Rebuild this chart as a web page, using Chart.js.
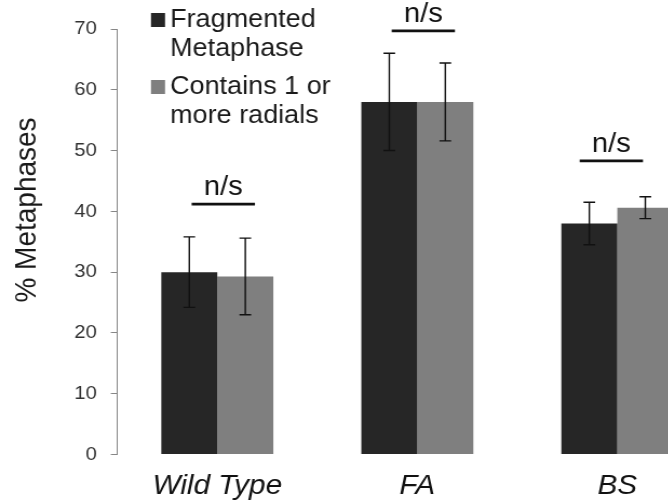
<!DOCTYPE html>
<html>
<head>
<meta charset="utf-8">
<script src="https://cdn.jsdelivr.net/npm/chart.js@4/dist/chart.umd.min.js"></script>
<style>
  html, body { margin: 0; padding: 0; background: #fff; overflow: hidden; }
  #wrap { width: 668px; height: 504px; overflow: hidden; position: relative; }
  /* the figure is drawn slightly narrow and widened, like the exported slide */
  canvas#metaphases { position: absolute; left: 0; top: 0; transform: scaleX(1.08); transform-origin: 0 0; }
</style>
</head>
<body>
<div id="wrap"><canvas id="metaphases" width="670" height="504"></canvas></div>
<script>
const categories = ["Wild Type", "FA", "BS"];
const seriesNames = ["Fragmented Metaphase", "Contains 1 or more radials"];
const fragmented = [30.0, 58.0, 38.0];
const fragmentedErr = [5.8, 8.0, 3.5];
const radials = [29.3, 58.0, 40.6];
const radialsErr = [6.3, 6.4, 1.8];
const yTicks = [0, 10, 20, 30, 40, 50, 60, 70];
const nsLabels = ["n/s", "n/s", "n/s"];
const nsLevels = [41.2, 69.7, 48.3];
const yTitle = "% Metaphases";

const FONT = "'Liberation Sans', Arial, sans-serif";
const DARK = "#262626";
const GREY = "#7f7f7f";
const AXIS = "#868686";

// error whiskers on each bar
const errorBars = {
  id: "errorBars",
  afterDatasetsDraw(chart) {
    const { ctx, scales: { y } } = chart;
    ctx.save();
    ctx.strokeStyle = "#111";
    ctx.lineWidth = 1.4;
    chart.data.datasets.forEach((ds, i) => {
      chart.getDatasetMeta(i).data.forEach((bar, j) => {
        const v = ds.data[j], e = ds.errors[j];
        const top = y.getPixelForValue(v + e);
        const bot = y.getPixelForValue(v - e);
        ctx.beginPath();
        ctx.moveTo(bar.x, top); ctx.lineTo(bar.x, bot);
        ctx.moveTo(bar.x - 5.4, top); ctx.lineTo(bar.x + 5.4, top);
        ctx.moveTo(bar.x - 5.4, bot); ctx.lineTo(bar.x + 5.4, bot);
        ctx.stroke();
      });
    });
    ctx.restore();
  },
};

// "n/s" bars over each group
const nsMarks = {
  id: "nsMarks",
  afterDatasetsDraw(chart, args, opts) {
    const { ctx, scales: { x, y } } = chart;
    ctx.save();
    ctx.strokeStyle = "#111";
    ctx.fillStyle = "#111";
    ctx.lineWidth = 2.8;
    ctx.font = `27px ${FONT}`;
    ctx.textAlign = "center";
    ctx.textBaseline = "alphabetic";
    categories.forEach((c, j) => {
      const cx = x.getPixelForValue(j + opts.shift[j]);
      const ly = y.getPixelForValue(nsLevels[j]);
      ctx.beginPath();
      ctx.moveTo(cx - 29.3, ly);
      ctx.lineTo(cx + 29.3, ly);
      ctx.stroke();
      ctx.fillText(nsLabels[j], cx, ly - 9.3);
    });
    ctx.restore();
  },
};

// legend with wrapped names, plus the rotated y title
const sideText = {
  id: "sideText",
  afterDraw(chart) {
    const { ctx } = chart;
    ctx.save();
    ctx.font = `25px ${FONT}`;
    ctx.textBaseline = "alphabetic";
    const tops = [13, 80];
    chart.data.datasets.forEach((ds, i) => {
      const words = ds.label.split(" ");
      const lines = [];
      let line = "";
      words.forEach(w => {
        const t = line ? line + " " + w : w;
        if (line && ctx.measureText(t).width > 165) { lines.push(line); line = w; }
        else line = t;
      });
      lines.push(line);
      ctx.fillStyle = ds.backgroundColor;
      ctx.fillRect(139.8, tops[i], 13, 14);
      ctx.fillStyle = "#1a1a1a";
      lines.forEach((l, k) => ctx.fillText(l, 157.5, tops[i] + 13.9 + k * 29.3));
    });

    ctx.font = `28px ${FONT}`;
    ctx.textAlign = "center";
    ctx.textBaseline = "middle";
    ctx.translate(25, 210);
    ctx.rotate(-Math.PI / 2);
    ctx.fillText(yTitle, 0, 0);
    ctx.restore();
  },
};

new Chart(document.getElementById("metaphases"), {
  type: "bar",
  data: {
    labels: categories,
    datasets: [
      { label: seriesNames[0], data: fragmented, errors: fragmentedErr, backgroundColor: DARK },
      { label: seriesNames[1], data: radials, errors: radialsErr, backgroundColor: GREY },
    ],
  },
  options: {
    responsive: false,
    animation: false,
    layout: { padding: { left: 0, right: 5.8, top: 29, bottom: 0 } },
    datasets: { bar: { categoryPercentage: 0.56, barPercentage: 1.0 } },
    scales: {
      x: {
        grid: { display: false, drawTicks: false },
        border: { display: false },
        ticks: { color: "#111", padding: 15.5, font: { family: FONT, size: 27.5, style: "italic" } },
        afterFit: s => { s.height = 49.5; },
      },
      y: {
        min: 0,
        max: 70,
        afterBuildTicks: s => { s.ticks = yTicks.map(v => ({ value: v })); },
        grid: { drawOnChartArea: false, drawTicks: true, tickLength: 6, color: AXIS },
        border: { display: true, color: AXIS },
        ticks: { color: "#333", padding: 13, font: { family: FONT, size: 18.8 } },
        afterFit: s => { s.width = 108.6; },
      },
    },
    plugins: {
      legend: { display: false },
      tooltip: { enabled: false },
      nsMarks: { shift: [0.03, 0.03, -0.03] },
    },
  },
  plugins: [errorBars, nsMarks, sideText],
});
</script>
</body>
</html>
